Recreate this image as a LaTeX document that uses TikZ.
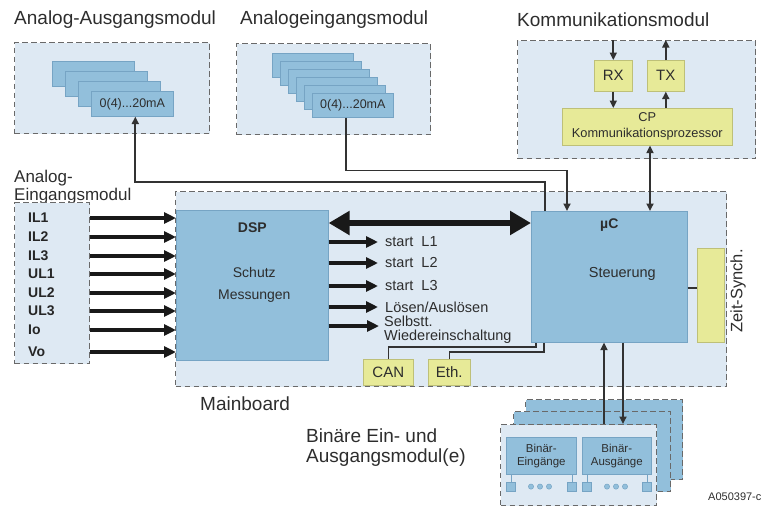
\documentclass[tikz,border=0pt]{standalone}
\usepackage{fontspec}
\setmainfont{Liberation Sans}
\usetikzlibrary{arrows.meta,positioning}

\definecolor{modfill}{RGB}{222,233,243}
\definecolor{cardfill}{RGB}{146,191,219}
\definecolor{cardline}{RGB}{118,164,196}
\definecolor{yfill}{RGB}{231,234,152}
\definecolor{yline}{RGB}{190,192,120}
\definecolor{dashgray}{RGB}{105,105,105}
\definecolor{wiregray}{RGB}{50,50,50}
\definecolor{txtgray}{RGB}{45,45,45}

\newcommand{\fsize}[1]{\fontsize{#1}{#1}\selectfont}

\tikzset{
	module/.style={draw=dashgray, fill=modfill, line width=1.2pt, dash pattern=on 5.5pt off 3.5pt, inner sep=0pt, anchor=north west},
	card/.style={draw=cardline, fill=cardfill, line width=0.6pt, inner sep=0pt, anchor=north west, text=txtgray},
	aacard/.style={card, minimum width=82pt, minimum height=25pt},
	aecard/.style={card, minimum width=81pt, minimum height=24pt},
	ybox/.style={draw=yline, fill=yfill, line width=0.6pt, inner sep=0pt, anchor=north west, text=txtgray},
	pad/.style={card, minimum width=9pt, minimum height=9pt},
	title/.style={anchor=west, inner sep=0pt, text=txtgray, font=\fsize{19}},
	lbl/.style={anchor=west, inner sep=0pt, text=txtgray, font=\fsize{14.5}},
	inlbl/.style={anchor=west, inner sep=0pt, text=black!85, font=\bfseries\fsize{14}},
	wire/.style={draw=wiregray, line width=1.7pt},
	smallhead/.style={-{Triangle[length=7.5pt,width=7pt]}},
	bothhead/.style={{Triangle[length=7.5pt,width=7pt]}-{Triangle[length=7.5pt,width=7pt]}},
	inarrow/.style={draw=black!90, line width=3.3pt, -{Triangle[length=12pt,width=11pt]}},
	outarrow/.style={draw=black!90, line width=3.3pt, -{Triangle[length=12pt,width=11pt]}, shorten >=7pt},
	busarrow/.style={draw=black!90, line width=5.5pt, {Triangle[length=21pt,width=23pt]}-{Triangle[length=21pt,width=23pt]}}
}

\begin{document}
\begin{tikzpicture}[x=1pt, y=-1pt]
	\useasboundingbox (0,0) rectangle (765,507);

	%Analog-Ausgangsmodul:
	\node[title] (aaTitle) at (14,20) {Analog-Ausgangsmodul};
	\node[module, minimum width=195pt, minimum height=91pt] (aaMod) at (14,42) {};
	\foreach \i in {0,1,2}
		\node[aacard] (aaCard\i) at (52+13*\i,61+10*\i) {};
	\node[aacard, font=\fsize{12.5}] (aaOut) at (91,91) {0(4)...20mA};

	%Analogeingangsmodul:
	\node[title] (aeTitle) at (240,20) {Analogeingangsmodul};
	\node[module, minimum width=194pt, minimum height=91pt] (aeMod) at (236,43) {};
	\foreach \i in {0,...,4}
		\node[aecard] (aeCard\i) at (272+8*\i,53+8*\i) {};
	\node[aecard, font=\fsize{12.5}] (aeOut) at (312,93) {0(4)...20mA};

	%Kommunikationsmodul:
	\node[title] (kmTitle) at (517,20) {Kommunikationsmodul};
	\node[module, minimum width=238pt, minimum height=118pt] (kmMod) at (517,40) {};
	\node[ybox, minimum width=38pt, minimum height=31pt, font=\fsize{15}] (rx) at (594,60) {RX};
	\node[ybox, minimum width=37pt, minimum height=31pt, font=\fsize{15}] (tx) at (647,60) {TX};
	\node[ybox, minimum width=170pt, minimum height=37pt] (cp) at (562,108) {};
	\node[align=center, text=txtgray, font=\fontsize{12.8}{16}\selectfont] (cpText) at (cp.center) {CP\\Kommunikationsprozessor};
	\draw[wire, smallhead] (rx.north |- kmMod.north) -- (rx.north);
	\draw[wire, smallhead] (rx.south) -- (rx.south |- cp.north);
	\draw[wire, smallhead] (tx.south |- cp.north) -- (tx.south);
	\draw[wire, smallhead] (tx.north) -- (tx.north |- kmMod.north);

	%Mainboard:
	\node[module, minimum width=551pt, minimum height=195pt] (mb) at (175,191) {};
	\node[title] (mbTitle) at (200,404) {Mainboard};
	\node[card, minimum width=152pt, minimum height=150pt] (dsp) at (176,210) {};
	\node[text=txtgray, font=\bfseries\fsize{14}] (dspTitle) at ([yshift=-18]dsp.north) {DSP};
	\node[align=center, text=txtgray, font=\fontsize{14}{22}\selectfont] (dspText) at ([xshift=2]dsp.center) {Schutz\\Messungen};
	\node[card, minimum width=156pt, minimum height=131pt] (uc) at (531,211) {};
	\node[text=txtgray, font=\bfseries\fsize{14}] (ucTitle) at ([yshift=-14]uc.north) {µC};
	\node[text=txtgray, font=\fsize{14.5}] (ucText) at ([xshift=13,yshift=3]uc.center) {Steuerung};

	\coordinate (busL) at ([yshift=-13]dsp.north east);
	\draw[busarrow] (busL) -- (busL -| uc.west);

	%Analog-Eingangsmodul:
	\node[anchor=north west, inner sep=0pt, align=left, text=txtgray, font=\fontsize{17}{18}\selectfont] (ainTitle) at (14,170) {Analog-\\Eingangsmodul};
	\node[module, minimum width=75pt, minimum height=161pt] (ainMod) at (14,202) {};
	\foreach \name/\yy [count=\i] in {IL1/218, IL2/237, IL3/256, UL1/274, UL2/293, UL3/311, Io/330, Vo/352}
	{
		\node[inlbl] (in\i) at (28,\yy) {\name};
		\draw[inarrow] (in\i -| ainMod.east) -- (in\i -| dsp.west);
	}

	%DSP outputs:
	\foreach \n/\yy in {1/242, 2/263, 3/286}
	{
		\node[lbl] (start\n) at (385,\yy) {start~~L\n};
		\draw[outarrow] (start\n -| dsp.east) -- (start\n.west);
	}
	\node[lbl] (trip) at (385,307) {Lösen/Auslösen};
	\draw[outarrow] (trip -| dsp.east) -- (trip.west);
	\node[lbl, align=left, font=\fontsize{14.5}{14}\selectfont] (reclose) at (384,330) {Selbstt.\\Wiedereinschaltung};
	\coordinate (recloseIn) at ([xshift=2,yshift=4]reclose.west);
	\draw[outarrow] (recloseIn -| dsp.east) -- (recloseIn);

	%CAN, Eth. and time sync:
	\node[ybox, minimum width=50pt, minimum height=26pt, font=\fsize{15}] (can) at (363,359) {CAN};
	\node[ybox, minimum width=42pt, minimum height=26pt, font=\fsize{15}] (eth) at (428,359) {Eth.};
	\coordinate (canBus) at (536,347);
	\coordinate (ethBus) at (544,352);
	\draw[wire, line width=1.4pt] (can.north) |- (canBus) -- (canBus |- uc.south);
	\draw[wire, line width=1.4pt] (eth.north) |- (ethBus) -- (ethBus |- uc.south);

	\node[ybox, minimum width=27pt, minimum height=94pt] (zeit) at (697,248) {};
	\coordinate (zeitIn) at ([yshift=7]zeit.west);
	\draw[wire] (zeitIn -| uc.east) -- (zeitIn);
	\node[rotate=90, text=txtgray, font=\fsize{16.5}] (zeitLbl) at (738,291) {Zeit-Synch.};

	%links to the modules on top
	\coordinate (ucToAA) at ([xshift=14]uc.north west);
	\coordinate (ucFromAE) at ([xshift=36]uc.north west);
	\coordinate (ucCP) at ([xshift=119]uc.north west);
	\coordinate (aaTap) at ([xshift=3]aaOut.south);
	\coordinate (aeTap) at ([xshift=-7]aeOut.south);
	\draw[wire, smallhead] (ucToAA) -- ++(0,-29) -| (aaTap);
	\draw[wire, smallhead] (aeTap) -- ++(0,53) -| (ucFromAE);
	\draw[wire, bothhead] (ucCP |- cp.south) -- (ucCP);

	%Binaere Ein-/Ausgangsmodule:
	\foreach \xx/\yy in {525/399, 513/411}
		\node[module, fill=cardfill, minimum width=157pt, minimum height=80pt] (binBack\xx) at (\xx,\yy) {};
	\node[module, minimum width=156pt, minimum height=81pt] (bin) at (500,424) {};
	\node[anchor=north west, inner sep=0pt, align=left, text=txtgray, font=\fontsize{19}{20}\selectfont] (binTitle) at (306,429) {Binäre Ein- und\\Ausgangsmodul(e)};
	\node[card, minimum width=70pt, minimum height=37pt, align=center, font=\fontsize{11.5}{12.5}\selectfont] (binIn) at (506,437) {Binär-\\Eingänge};
	\node[card, minimum width=69pt, minimum height=37pt, align=center, font=\fontsize{11.5}{12.5}\selectfont] (binOut) at (582,437) {Binär-\\Ausgänge};
	\foreach \b in {binIn, binOut}
	{
		\node[pad, anchor=north west] (\b-l) at ([yshift=-7]\b.south west) {};
		\node[pad, anchor=north east] (\b-r) at ([yshift=-7]\b.south east) {};
		\draw[cardline, line width=0.6pt] (\b-l.north) -- (\b-l.north |- \b.south);
		\draw[cardline, line width=0.6pt] (\b-r.north) -- (\b-r.north |- \b.south);
		\foreach \k in {0,1,2}
			\filldraw[fill=cardfill, draw=cardline, line width=0.5pt] ([xshift=25+9*\k, yshift=-12]\b.south west) circle (2.6);
	}

	\coordinate (binToUc) at ([xshift=73]uc.south west);
	\coordinate (ucToBin) at ([xshift=92]uc.south west);
	\draw[wire, smallhead] (binToUc |- bin.north) -- (binToUc);
	\draw[wire, smallhead] (ucToBin) -- (ucToBin |- bin.north);

	\node[anchor=west, inner sep=0pt, text=txtgray, font=\fsize{11}] (docId) at (708,497) {A050397-c};
\end{tikzpicture}
\end{document}
